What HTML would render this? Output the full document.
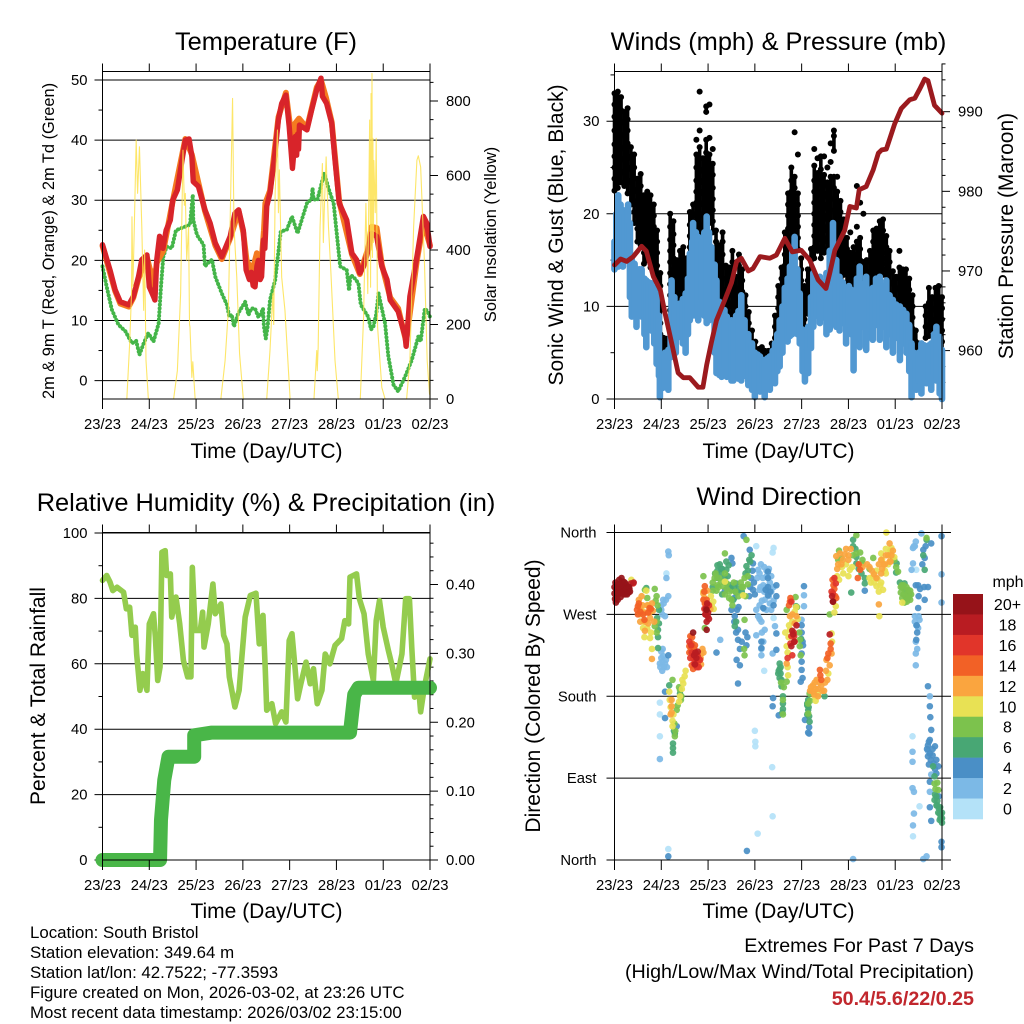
<!DOCTYPE html>
<html lang="en">
<head>
<meta charset="utf-8">
<title>Station Weather Meteogram</title>
<style>
html,body{margin:0;padding:0;background:#fff;width:1024px;height:1024px;overflow:hidden}
svg{display:block}
text{font-family:"Liberation Sans",sans-serif;fill:#000}
.title{font-size:25.4px;text-anchor:middle}
.axt{font-size:21px;text-anchor:middle}
.axs{font-size:16.4px;text-anchor:middle}
.foot{font-size:16.85px}
.ext{font-size:19.7px;text-anchor:end}
</style>
</head>
<body>
<svg xmlns="http://www.w3.org/2000/svg" width="1024" height="1024" viewBox="0 0 1024 1024">
<rect x="0" y="0" width="1024" height="1024" fill="#fff"/>
<g id="chart-layer"></g>

<text class="title" x="266" y="50">Temperature (F)</text>
<text class="title" x="778.5" y="50">Winds (mph) &amp; Pressure (mb)</text>
<text class="title" x="266" y="511">Relative Humidity (%) &amp; Precipitation (in)</text>
<text class="title" x="779" y="505">Wind Direction</text>

<text class="axt" x="266.5" y="458">Time (Day/UTC)</text>
<text class="axt" x="778.5" y="458">Time (Day/UTC)</text>
<text class="axt" x="266.5" y="918">Time (Day/UTC)</text>
<text class="axt" x="778.5" y="918">Time (Day/UTC)</text>

<text class="axs" transform="translate(54,241) rotate(-90)">2m &amp; 9m T (Red, Orange) &amp; 2m Td (Green)</text>
<text class="axs" transform="translate(496,234.5) rotate(-90)">Solar Insolation (Yellow)</text>
<text class="axt" transform="translate(563,235) rotate(-90)">Sonic Wind &amp; Gust (Blue, Black)</text>
<text class="axt" transform="translate(1013,236) rotate(-90)">Station Pressure (Maroon)</text>
<text class="axt" transform="translate(45,696) rotate(-90)">Percent &amp; Total Rainfall</text>
<text class="axt" transform="translate(540,696) rotate(-90)">Direction (Colored By Speed)</text>

<text class="foot" x="30" y="938">Location: South Bristol</text>
<text class="foot" x="30" y="958">Station elevation: 349.64 m</text>
<text class="foot" x="30" y="978">Station lat/lon: 42.7522; -77.3593</text>
<text class="foot" x="30" y="998">Figure created on Mon, 2026-03-02, at 23:26 UTC</text>
<text class="foot" x="30" y="1018">Most recent data timestamp: 2026/03/02 23:15:00</text>

<text class="ext" x="974" y="952">Extremes For Past 7 Days</text>
<text class="ext" x="974" y="978">(High/Low/Max Wind/Total Precipitation)</text>
<text class="ext" x="974" y="1005" style="font-weight:bold;fill:#C1272D">50.4/5.6/22/0.25</text>

<text x="1008" y="587" style="font-size:16px;text-anchor:middle">mph</text>
</svg>

<script>
/* ---------- shared axis data ---------- */
const dayLabels = ["23/23","24/23","25/23","26/23","27/23","28/23","01/23","02/23"];
const dayTicks = [0,1,2,3,4,5,6,7];

/* ---------- temperature panel ---------- */
const tempTicks = [0,10,20,30,40,50];
const tempMinorTicks = [5,15,25,35,45];
const solarTicks = [0,200,400,600,800];
const solarMinorTicks = [50,100,150,250,300,350,450,500,550,650,700,750,850];
const redTemp = [[0,22.6],[.16,18.4],[.27,15.1],[.38,13.1],[.56,12.6],[.66,14],[.77,17.3],[.84,20.1],[.95,20.9],[1,15.6],[1.09,14],[1.12,13.4],[1.16,20.1],[1.22,24],[1.29,22],[1.36,25],[1.45,26.7],[1.5,30],[1.6,31.7],[1.7,36.7],[1.77,40],[1.85,40.2],[1.91,37.3],[1.94,33.1],[2.05,32.3],[2.19,28.4],[2.3,26.2],[2.41,22.9],[2.55,20.6],[2.73,24],[2.83,27.8],[2.91,28.4],[3.01,25],[3.07,18.4],[3.14,16.8],[3.18,18],[3.22,15.8],[3.26,15.6],[3.3,19],[3.33,20],[3.37,16.8],[3.4,17.3],[3.44,23.4],[3.47,22],[3.51,29],[3.58,31.2],[3.67,36.7],[3.76,43.4],[3.83,46.1],[3.92,47.5],[3.99,42.3],[4.06,35.3],[4.12,40.6],[4.15,37.5],[4.17,41],[4.19,38.5],[4.21,42.5],[4.37,41.7],[4.47,45],[4.58,48.4],[4.67,50.3],[4.7,47.3],[4.79,46.1],[4.9,42.8],[4.97,36.7],[5.06,29.5],[5.22,26.7],[5.33,21.2],[5.43,20.1],[5.5,17.9],[5.58,19],[5.68,21.7],[5.75,24.5],[5.86,24],[5.97,19],[6.08,16.8],[6.15,13.4],[6.32,11.5],[6.47,7.3],[6.49,5.7],[6.57,14],[6.72,20.6],[6.86,27.3],[6.93,26.2],[7,22.3]];
const orangeTemp = [[0,22.4],[.27,14.9],[.38,12.8],[.56,12.3],[.66,13.8],[.77,17],[.95,20.5],[1.03,18],[1.06,18.2],[1.1,15.6],[1.16,19.6],[1.3,21.6],[1.5,29.8],[1.77,40.2],[1.91,37.6],[2.19,28.2],[2.41,22.5],[2.55,20.2],[2.73,23.7],[2.91,28.2],[3.01,24.6],[3.08,20],[3.2,18.2],[3.3,21.2],[3.4,20],[3.45,25],[3.48,29.5],[3.58,31.6],[3.76,43.8],[3.92,47.9],[4,43],[4.06,40],[4.12,42.8],[4.2,43.6],[4.37,42],[4.58,48.8],[4.67,50],[4.78,47],[4.9,43],[5.06,29.8],[5.33,21],[5.5,17.7],[5.68,22],[5.75,25.6],[5.86,25.4],[5.97,19.3],[6.15,13.8],[6.32,12],[6.49,6.5],[6.72,20],[6.86,26.2],[7,22.5]];
const greenDewpoint = [[0,19],[.09,15.6],[.2,11.8],[.34,9.3],[.49,8.2],[.63,6.2],[.72,6.6],[.79,4.3],[.88,6.2],[.98,7.9],[1.09,6.5],[1.2,9.5],[1.25,15.6],[1.3,20.6],[1.37,22.3],[1.48,22],[1.57,25],[1.73,25.5],[1.87,25.9],[1.93,30.9],[1.94,26.7],[2.02,24.2],[2.16,22.6],[2.19,19],[2.26,19.6],[2.34,20.1],[2.41,17.3],[2.55,14.5],[2.66,12.6],[2.71,10.6],[2.76,11],[2.81,9],[2.9,11.2],[3.05,13.1],[3.12,10.9],[3.18,12],[3.26,12],[3.33,10.6],[3.38,11],[3.43,12],[3.45,9],[3.49,7],[3.53,9],[3.58,13.4],[3.69,16.7],[3.81,24.8],[3.94,25.1],[4.05,27.3],[4.17,24.5],[4.37,29.5],[4.47,30.2],[4.49,32],[4.51,30.2],[4.59,30],[4.74,34.5],[4.83,32],[4.94,29.5],[5.08,19],[5.22,18.4],[5.27,15],[5.3,17.5],[5.36,17.3],[5.47,16.2],[5.52,12.6],[5.68,10.6],[5.74,8.5],[5.79,9],[5.85,11],[5.9,14.5],[6.04,9.5],[6.11,4],[6.22,-.7],[6.32,-1.8],[6.47,.7],[6.61,3.4],[6.75,7.3],[6.8,6.5],[6.89,12],[6.95,11.5],[7,10.6]];
const solarInsolation = [[0,0],[.52,0],[.58,148],[.62,283],[.63,489],[.65,301],[.68,462],[.72,695],[.75,552],[.79,677],[.84,462],[.88,238],[.9,400],[.93,103],[.98,0],[1.52,0],[1.6,76],[1.67,283],[1.72,668],[1.75,520],[1.77,552],[1.8,372],[1.84,462],[1.86,200],[1.87,193],[1.91,58],[1.93,100],[1.98,0],[2.53,0],[2.62,103],[2.69,238],[2.74,552],[2.78,807],[2.81,462],[2.87,327],[2.93,121],[3.01,0],[3.51,0],[3.58,130],[3.64,283],[3.66,200],[3.69,552],[3.74,722],[3.76,500],[3.78,615],[3.83,327],[3.9,238],[4.01,0],[4.52,0],[4.58,130],[4.59,76],[4.61,139],[4.65,462],[4.7,632],[4.72,420],[4.74,507],[4.78,650],[4.83,462],[4.88,345],[4.97,103],[5.04,0],[5.51,0],[5.58,219],[5.63,525],[5.67,283],[5.71,749],[5.73,300],[5.74,820],[5.75,400],[5.76,874],[5.77,380],[5.78,700],[5.79,420],[5.8,640],[5.83,500],[5.85,700],[5.88,193],[5.97,31],[6.04,0],[6.5,0],[6.57,103],[6.65,462],[6.72,641],[6.75,653],[6.8,623],[6.88,372],[6.94,103],[6.99,13],[7,140],[7,0]];

/* ---------- winds panel ---------- */
const windTicks = [0,10,20,30];
const windMinorTicks = [5,15,25,35];
const pressureTicks = [960,970,980,990];
const pressureMinorTicks = [956,958,962,964,966,968,972,974,976,978,982,984,986,988,992,994,996];
const gustDays = [0,.07,.14,.21,.28,.35,.42,.49,.56,.63,.7,.77,.84,.91,.98,1.05,1.12,1.19,1.26,1.33,1.4,1.47,1.54,1.61,1.68,1.75,1.82,1.89,1.96,2.03,2.1,2.17,2.24,2.31,2.38,2.45,2.52,2.59,2.66,2.73,2.8,2.87,2.94,3.01,3.08,3.15,3.22,3.29,3.36,3.43,3.5,3.57,3.64,3.71,3.78,3.85,3.92,3.99,4.06,4.13,4.2,4.27,4.34,4.41,4.48,4.55,4.62,4.69,4.76,4.83,4.9,4.97,5.04,5.11,5.18,5.25,5.32,5.39,5.46,5.53,5.6,5.67,5.74,5.81,5.88,5.95,6.02,6.09,6.16,6.23,6.3,6.37,6.44,6.51,6.58,6.65,6.72,6.79,6.86,6.93,7];
const gustValues = [
[33,31.8,30.5,29,27.5,26.2,25,23.8,22.5],[33.2,32,30.8,29.4,28,26.6,25.4,24,22.8],[32.6,31.2,30,28.6,27.2,26,24.6,23.4],[31,29.8,28.4,27,25.8,24.4,23],[31.4,30.2,29,27.6,26.2,25,23.6,22.2],[27.2,26,24.8,23.4,22.2,21],[26.4,25,23.8,22.6,21.4,20.2,19],[23.8,22.4,21,19.8,18.4,17],[24.3,23,21.8,20.4,19.2,18,16.6],[22,20.8,19.6,18.4,17,15.8,14.6],[22.4,21.2,20,18.8,17.6,16.2,15],[22,20.6,19.2,18,16.8,15.4,14.2],[21,19.8,18.6,17.2,16,14.8,13.4],[18.2,17,15.8,14.4,13.2,12],[13.6,12.2,11,9.6,8.2,7,5.6],[6.6,5.8,4.8],[6.5,5.2],[20,18.6,17.2,16,14.8,13.6,12.4,11.2,9.6,8.4],[19.2,17.8,16.6,15.2,14,12.8,11.4,10.2],[15,13.8,12.6,11.4,10.2],[16,14.8,13.6,12.4,11.2,10],[16.4,15,13.8,12.6,11.4],[15.2,14,12.8,11.6],[20.2,18.8,17.6,16.4,15.2,14,12.8],[21,19.8,18.6,17.4,16.2,15,13.8],[28,26.4,25,23.6,22.4,21.2,20,18.8,17.6,16.4],[33.2,29,27.2,26,24.8,23.6,22.4,21.2,20,18.8,17.6],[26,24.6,23.4,22.2,21,19.8,18.6,17.4],[31.6,31,28,26.6,25.4,24.2,23,21.8,20.6,19.4,18.2],[31.8,28.2,26.4,25,23.8,22.6,21.4,20.2,19],[27,25.4,24.2,22.8,21.6,20.4,19.2,18],[18.2,17,15.8,14.6,13.4,12.2],[16.6,15.2,14,12.8,11.6,10.4],[18,17,15.6,14.2,13,11.8,10.6,9.4],[14.4,13,11.8,10.6,9.4],[14.2,12.8,11.6,10.4,9.2,8],[16,14.8,13.6,12.4,11.2,10,8.8],[13.2,12,10.8,9.6,8.4],[15.6,14.4,13.2,12,10.8,9.6],[14,12.8,11.6,10.4,9.2,8],[11.2,10,8.8,7.6,6.4],[9.4,8.2,7,5.8],[7.4,6.2,5],[6.2,5.2,4.2],[5.4,4.4,3.4],[5.6,4.6,3.6],[5.2,4.2,3.2],[5.2,4.4,3.4],[6,5,4],[9,7.8,6.6,5.4],[12.2,11,9.8,8.6,7.4],[14.2,13,11.8,10.6,9.4,8.2],[18,16.8,15.6,14.4,13.2,12,10.8],[22.2,21,19.8,18.4,17.2,16,14.8,13.6,12.4],[25,23.6,22.4,21.2,20,18.8,17.6,16.4,15.2],[28.8,24,22.8,21.6,20.4,19.2,18,16.8,15.6],[26.4,22.2,21,19.8,18.6,17.4,16.2],[15.2,14,12.8,11.6,10.4,9.2],[12.2,11,9.8,8.6,7.4],[14,12.8,11.6,10.4,9.2,7,6],[16.2,15,13.8,12.6,11.4],[27,25.2,23.6,22.4,21.2,20,18.8,17.6,16.4,15.2],[26,24.4,23.2,22,20.8,19.6,18.4,17.2,16],[26.2,24.8,23.6,22.4,21.2,20,18.8,17.6,16.4,15.2],[26.2,24.2,23,21.8,20.6,19.4,18.2,17,15.8],[25,23.4,22.2,21,19.8,18.6,17.4,16.2],[27.6,25.6,24,22.8,21.6,20.4,19.2,18,16.8,15.6],[29,28.4,26.8,24,22.8,21.6,20.4,19.2,18,16.8],[24,22.4,21.2,20,18.8,17.6,16.4,15.2],[21.4,20.2,19,17.8,16.6,15.4,14.2,13],[19.4,18.2,17,15.8,14.6,13.4],[17.4,16.2,15,13.8,12.6,11.4],[18,15.8,14.6,13.4,12.2,11],[16.4,15.2,14,12.8,11.6],[23,18.6,17,15.6,14.4,13.2,11,8.2],[21.2,17.4,16.2,15,13.8,12.6,9.4],[20,14.8,13.6,12.4,11.2],[15,13.8,12.6,11.4,9],[16,14.8,13.6,12.4,11.2],[18.2,17,15.8,14.6,13.4,12.2],[18.4,17.2,16,14.8,13.6,12.4],[19.2,18,16.8,15.6,14.4,13.2],[19.4,18.2,17,15.8,14.6,13.4],[17.6,16.4,15.2,14,12.8,11.6],[16,14.8,13.6,12.4,11.2],[13.8,12.6,11.4,10.2],[13.2,12,10.8,9.6],[16,14.2,13,11.8,10.6],[14,12.8,11.6,10.4,9.2],[14,12.8,11.6,10.4,9.2],[13,11.8,10.6,9.4,8.2],[11.2,10,8.8,7.6,6.4],[7.4,6.2,5,3.8],[6,4.8,3.6],[5.2,4,2.8],[10,9,7.8,6.6],[12,10.4,9.2,8,6.8],[11,9.8,8.6,7.4],[12,10.8,9.6,8.4,7.2],[12.2,11,9.8,8.6,7.4,6.2],[11,9.8,8.6,7.4,6.2,5,3.6,2,1]
];
/* day, high, low of the sonic wind trace */
const windRange = [[0,17,14],[.04,20,14.3],[.08,22,14.3],[.13,21,15],[.18,20.4,14.3],[.23,20,15],[.29,21,15.2],[.33,19,11],[.37,15,8.9],[.43,14.6,9],[.47,14,7.8],[.53,14,9.5],[.58,14,8.9],[.64,13,7],[.68,12.8,5.6],[.73,12.6,8],[.79,12.5,7.4],[.85,12,6],[.9,11.4,3.8],[.95,9,2.5],[.97,4.2,.2],[1.03,4.5,1.2],[1.08,5,1.3],[1.15,5.3,1],[1.2,9,4.5],[1.22,12.8,6.7],[1.28,11,6],[1.31,10,5],[1.39,10.3,6.7],[1.46,10.8,6],[1.52,11.4,5],[1.57,13,7],[1.61,15.7,8.5],[1.66,17,9],[1.68,19,10.7],[1.74,18,9],[1.79,17.5,8.5],[1.86,17,10.7],[1.92,18,9],[1.97,19.7,8.2],[2.02,18,8.5],[2.07,16.4,8.9],[2.14,14.5,5],[2.18,12.8,2.8],[2.24,10.5,2.6],[2.29,9.2,2.4],[2.35,9.6,3.4],[2.4,8.9,2.4],[2.5,8.5,2],[2.54,8.2,2],[2.6,9,3.2],[2.65,9.5,2.2],[2.71,11.2,2],[2.78,8.5,2.5],[2.86,7,1.5],[2.94,6,1],[3,5,.2],[3.06,4.8,1.6],[3.11,4.6,.8],[3.16,4.2,2],[3.21,4.2,.2],[3.27,4.4,1.8],[3.32,4.6,1],[3.38,5.2,2.2],[3.43,6,1.7],[3.48,7,3],[3.53,8.5,3.5],[3.59,10,5],[3.64,12,7],[3.7,13,6.2],[3.75,14.3,6.8],[3.8,16,7],[3.85,17.5,7.8],[3.91,14,7],[3.96,11.4,6],[4.02,7.5,3],[4.07,5,1.9],[4.14,7.8,2.8],[4.2,11,5.5],[4.25,13.6,7.8],[4.32,13,9],[4.39,13.2,8.2],[4.46,12.6,8.8],[4.53,13.6,7],[4.6,16,7.5],[4.67,19,8.2],[4.74,15,7.8],[4.81,13.2,7.4],[4.88,12.6,8.2],[4.95,12,6],[5.01,12.2,8],[5.06,11.8,7],[5.11,11,3.1],[5.18,13,7.2],[5.24,14.3,5.6],[5.31,12.4,7.8],[5.38,13.2,5.3],[5.45,11.8,7.6],[5.52,12,6.4],[5.59,13,8],[5.67,13.2,6.4],[5.74,12.2,7.8],[5.81,12.8,5.6],[5.88,11.2,7],[5.95,10.7,5],[6.02,10.2,6.6],[6.1,10,4.2],[6.17,9.6,6],[6.24,9.2,5],[6.3,8,3],[6.35,6,.2],[6.4,5,1.5],[6.45,4.2,1],[6.5,5,2],[6.56,6,.6],[6.62,5.8,2.2],[6.67,5.6,1.7],[6.72,5.8,2],[6.77,6,1],[6.83,7,2.6],[6.88,7.8,2],[6.95,6.7,.6],[7,5.3,0]];
const maroonPressure = [[0,970.75],[.13,971.5],[.26,971.2],[.4,971.8],[.58,973.1],[.68,972.5],[.83,969.3],[.98,967.6],[1.08,964.7],[1.22,961],[1.36,957.2],[1.47,956.6],[1.61,956.6],[1.79,955.4],[1.89,955.4],[1.97,958.2],[2.07,961],[2.18,963.8],[2.36,966.4],[2.5,968.5],[2.61,971.2],[2.71,971.6],[2.86,970],[2.96,970.3],[3.11,971.8],[3.32,971.6],[3.46,972],[3.64,974.1],[3.8,972.4],[3.99,972.6],[4.17,971.4],[4.35,968.9],[4.52,967.8],[4.6,969.7],[4.71,972.6],[4.92,975.1],[5.03,978.1],[5.17,977.9],[5.23,980.2],[5.38,980.6],[5.53,982.7],[5.64,984.8],[5.71,985.2],[5.81,985.3],[5.99,988.5],[6.13,990.4],[6.31,991.5],[6.42,991.7],[6.52,992.8],[6.63,994.1],[6.7,993.9],[6.84,990.8],[7,989.8]];

/* ---------- humidity panel ---------- */
const humidityTicks = [0,20,40,60,80,100];
const humidityMinorTicks = [10,30,50,70,90];
const rainTicks = [0,.1,.2,.3,.4];
const rainTickLabels = ["0.00","0.10","0.20","0.30","0.40"];
const rainMinorTicks = [.02,.04,.06,.08,.12,.14,.16,.18,.22,.24,.26,.28,.32,.34,.36,.38,.42,.44,.46];
const relativeHumidity = [[0,85.5],[.09,87],[.16,85],[.22,82.4],[.31,83.4],[.45,81.9],[.51,76.8],[.58,77.3],[.63,68.7],[.7,71.2],[.73,63],[.8,51.9],[.86,57],[.95,51.9],[1,72.2],[1.09,75.3],[1.13,68.2],[1.18,54.9],[1.23,59],[1.27,94.1],[1.34,94.6],[1.37,87],[1.45,87.5],[1.48,74.3],[1.57,80.4],[1.65,72.2],[1.73,61],[1.82,56],[1.89,56],[1.92,89.5],[1.98,70.2],[2.09,70.2],[2.14,75.8],[2.17,65.1],[2.26,72.2],[2.36,84.4],[2.41,75.3],[2.53,78.3],[2.59,68.7],[2.66,66.1],[2.71,56],[2.83,46.8],[2.92,51.9],[3.05,74.3],[3.16,80.9],[3.28,81.6],[3.35,66.1],[3.43,74.8],[3.48,58],[3.51,45.8],[3.62,47.8],[3.7,41.7],[3.83,45.3],[3.92,42.2],[3.99,67.1],[4.05,69.2],[4.12,58],[4.17,49.3],[4.24,53.9],[4.35,60.5],[4.44,53.9],[4.51,58.5],[4.59,47.8],[4.69,51.9],[4.76,63],[4.86,60],[4.97,65.6],[5.11,67.7],[5.18,73.2],[5.26,72.2],[5.29,86.5],[5.43,87.5],[5.49,79.9],[5.59,75.3],[5.68,63],[5.79,54.9],[5.85,73.2],[5.92,79.3],[6,71.2],[6.11,64.1],[6.18,60],[6.27,53.9],[6.4,63],[6.48,79.9],[6.56,79.9],[6.61,65.1],[6.67,49.8],[6.75,53.9],[6.8,45.3],[6.88,52.9],[7,61.5]];
const totalPrecipitation = [[0,0],[1.23,0],[1.25,.058],[1.32,.116],[1.41,.15],[1.96,.15],[1.96,.181],[2.34,.185],[5.29,.185],[5.38,.24],[5.47,.25],[7,.25]];

/* ---------- wind direction panel ---------- */
const directionTicks = [0,90,180,270,360];
const directionLabels = ["North","East","South","West","North"];
const speedLabels = ["20+","18","16","14","12","10","8","6","4","2","0"];
const speedColors = ["#961319","#B91C22","#E1352A","#F26126","#FAA53F","#E8E154","#7CC24D","#48A774","#4A8FC6","#7CB9E6","#B4E2F8"];
const dirSpeed0 = [[1.11,315],[3.03,345],[3.4,343],[.97,173],[.97,160],[.97,136],[1.15,12],[3,142],[3.01,125],[3.37,102],[3.38,48],[3.06,29],[3.2,208],[3.4,266],[6.38,343],[6.52,59],[6.38,26],[6.37,136],[6.45,319],[6.56,359],[3.01,130],[3.38,338]];
const dirSpeed2 = [[1.15,339],[1.16,335],[1.11,310],[1.04,286],[1.1,286],[1.15,290],[1,275],[1.08,268],[1,229],[1.04,224],[.97,216],[1.08,216],[1.03,232],[1.12,212],[2.26,242],[3.07,319],[3.17,310],[3.25,318],[3.1,297],[3.18,302],[3.32,305],[3.21,286],[3.3,290],[3.32,282],[3.07,268],[3.14,262],[3.2,276],[3.21,253],[3.03,247],[3.14,225],[3.43,257],[3.38,227],[4.05,291],[4.05,279],[4,264],[6.38,343],[6.35,319],[6.38,326],[6.42,268],[6.52,264],[6.49,255],[6.44,227],[6.44,214],[6.42,345],[6.56,359],[6.6,1],[6.67,4],[5.1,1],[6.99,314],[6.99,283],[.97,111],[6.37,119],[6.37,108],[6.37,79],[6.4,75],[6.4,51],[6.38,38],[6.74,180],[6.77,94],[6.7,120],[6.74,75],[3.05,310],[3.1,315],[3.13,325],[3.2,322],[3.25,312],[3.3,320],[3.35,312],[3.4,300],[3.12,300],[3.2,295],[3.24,300],[3.35,295],[3.4,285],[3.15,285],[3.1,280],[3.25,275],[3.35,275],[3.03,275],[3.1,265],[3.15,250],[3.18,240],[3.14,232],[1,280],[1.02,270],[1.05,282],[1,222],[1.03,218],[1.06,212],[1.1,220],[.98,212],[1.02,208],[6.42,262],[6.45,258],[6.5,268],[6.44,240],[6.47,232],[6.4,345],[6.44,350]];
const dirSpeed4 = [[1.15,225],[1.08,185],[1.08,156],[1.33,147],[1.15,4],[2.83,10],[2.5,332],[2.52,326],[2.57,268],[2.62,275],[2.64,253],[2.61,220],[2.68,214],[2.64,194],[2.82,236],[2.84,245],[2.89,341],[2.76,356],[2.96,326],[2.96,297],[2.92,310],[3.28,310],[3.28,291],[3.28,300],[3.46,302],[3.46,290],[3.18,277],[3.14,240],[3.14,233],[3.46,249],[3.46,231],[3.39,178],[3.38,169],[3.51,159],[4.05,301],[4,227],[4,209],[4,218],[4.03,236],[4.16,139],[4.16,146],[4.07,154],[5.35,296],[6.49,302],[6.44,302],[6.49,277],[6.45,242],[6.47,250],[6.63,286],[6.6,341],[6.63,332],[6.58,325],[6.77,348],[6.7,191],[6.74,169],[6.75,157],[6.77,143],[6.74,132],[6.7,126],[6.85,125],[6.7,114],[6.74,117],[6.8,122],[6.88,110],[6.92,103],[6.74,86],[6.93,70],[6.74,58],[6.77,43],[6.99,20],[6.99,14],[6.99,356],[2.18,228],[2.28,320],[2.36,296],[2.44,300],[2.56,288],[2.65,278],[2.95,318],[2.98,305],[2.9,300],[2.88,290],[3,292],[3.28,317],[3.33,295],[3.23,297],[3.4,280],[2.5,275],[2.56,262],[2.6,250],[2.64,242],[2.68,232],[2.72,240],[2.8,250],[6.46,258],[6.62,300],[6.7,300],[6.65,345],[6.72,130],[6.76,110],[6.8,115],[6.82,106],[6.72,105],[6.68,122],[6.85,100],[6.88,95],[4,250],[4,258],[4.02,240],[4.14,140],[4.02,200],[3.98,196],[6.5,290],[6.53,298]];
const dirSpeed6 = [[.68,299],[.93,253],[.93,233],[.91,266],[.95,275],[1.17,192],[1.25,123],[1.25,128],[1.29,139],[1.4,183],[2.2,324],[2.28,315],[2.39,319],[2.39,328],[2.44,324],[2.5,297],[2.54,286],[2.6,304],[2.93,335],[2.82,323],[2.57,257],[2.6,262],[2.88,330],[3.53,216],[3.53,210],[3.55,205],[3.53,200],[3.51,208],[3.57,191],[3.6,172],[3.6,166],[3.88,279],[3.99,243],[4.14,176],[4.14,165],[4.12,170],[4.17,152],[4.49,180],[5.1,352],[5.06,294],[5.17,326],[5.17,333],[5.35,304],[6.03,326],[6.2,304],[6.27,290],[6.63,319],[6.67,352],[6.6,335],[6.81,103],[6.84,92],[6.84,66],[6.95,51],[6.98,45],[7,41],[6.93,57],[6.97,47],[7,52],[6.88,60],[6.9,65],[2.1,300],[2.2,310],[2.3,292],[2.15,315],[2.2,318],[2.25,325],[2.3,320],[2.35,310],[2.42,312],[2.48,302],[2.55,300],[2.6,294],[2.66,298],[2.72,295],[2.8,315],[2.85,318],[2.9,328],[3.55,212],[3.57,198],[3.5,205],[3.6,180],[3.59,162],[4.12,172],[4.15,168],[4.12,160],[4.16,158],[5.1,345],[5.15,342],[5.22,320],[5.28,315],[5.35,310],[5.95,330],[6.02,316],[6.1,305],[6.15,300],[6.22,296],[6.3,292],[6.85,72],[6.9,60],[6.92,52],[6.96,58],[6.98,50],[7,46],[6.95,44],[6.88,70],[1.25,118],[1.27,142],[.93,245],[.95,260]];
const dirSpeed8 = [[.65,297],[.86,298],[.9,290],[.86,257],[.9,262],[1.24,198],[1.4,187],[1.43,180],[1.33,165],[1.29,136],[1.9,312],[2.14,310],[2.2,302],[2.1,296],[2.18,296],[2.32,301],[2.36,292],[2.5,286],[2.52,280],[2.75,300],[2.8,290],[2.82,352],[2.36,337],[2.78,264],[2.78,225],[2.77,232],[3.68,275],[3.87,289],[3.68,196],[3.6,176],[3.96,235],[3.96,242],[4.14,161],[4.17,183],[4.78,330],[5.17,357],[5.17,337],[5.25,338],[5.53,332],[5.3,326],[6.06,317],[6.17,299],[6.22,290],[6.27,294],[6.32,286],[6.2,283],[6.28,297],[6.12,294],[6.34,292],[6.15,288],[6.25,284],[6.67,354],[6.84,84],[6.92,77],[2.24,310],[2.4,304],[2.46,295],[2.58,295],[2.7,305],[2.85,303],[1.93,255],[2.1,305],[2.16,315],[2.22,300],[2.28,306],[2.36,315],[2.4,298],[2.45,288],[2.55,305],[2.65,290],[2.72,300],[2.78,310],[2.85,312],[.7,288],[.88,285],[.92,280],[.9,250],[1.35,170],[1.42,176],[1.38,190],[1.28,150],[1.3,142],[3.56,195],[3.62,190],[3.6,160],[3.9,278],[3.95,250],[3.98,225],[4.14,172],[4.18,175],[4.6,270],[4.8,340],[4.85,332],[5.1,335],[5.3,330],[5.45,320],[5.9,340],[5.98,330],[6.02,322],[6.18,302],[6.24,300],[6.3,290],[6.32,296],[6.14,302],[6.22,285],[6.18,292],[6.28,288],[6.12,300],[6.9,85],[6.86,78]];
const dirSpeed10 = [[.61,255],[.76,244],[.8,232],[.36,308],[.68,296],[1.17,185],[1.18,176],[1.24,147],[1.24,153],[1.47,194],[1.5,202],[1.38,174],[1.44,188],[2.11,284],[2.06,290],[2.36,306],[2.75,291],[3.68,235],[3.71,203],[3.75,253],[3.85,273],[3.72,245],[4.73,279],[4.89,315],[5.03,319],[5.53,312],[5.6,301],[5.74,297],[5.7,337],[5.81,360],[5.66,268],[5.92,343],[6.15,283],[4.28,180],[4.64,249],[4.57,205],[5.62,309],[5.68,302],[5.48,305],[4.86,322],[5.78,318],[.55,270],[.62,262],[.7,255],[.78,250],[.64,245],[.72,280],[.58,275],[1.2,168],[1.26,160],[1.4,180],[1.45,198],[1.52,208],[1.9,295],[2.08,280],[2.12,276],[3.65,250],[3.7,228],[3.73,258],[3.7,212],[3.8,262],[3.88,278],[3.92,265],[4.35,182],[4.3,175],[4.65,240],[4.7,272],[4.76,312],[4.8,308],[4.95,325],[5,312],[5.08,322],[5.45,310],[5.55,305],[5.6,318],[5.65,295],[5.7,305],[5.8,315],[5.85,325],[5.9,338],[5.98,333],[5.72,330],[5.8,342]];
const dirSpeed12 = [[.52,286],[.6,280],[.68,272],[.76,266],[.82,274],[.55,262],[.65,252],[.8,282],[.8,221],[.72,260],[1.22,169],[1.22,176],[1.86,227],[1.85,215],[1.9,293],[1.94,282],[2.05,276],[4.2,190],[4.28,195],[4.35,188],[4.42,192],[4.48,186],[4.55,198],[4.25,185],[3.68,216],[3.89,268],[4.74,334],[4.82,337],[4.88,330],[4.95,342],[5,335],[4.78,325],[5.4,325],[5.5,318],[5.7,330],[5.85,335],[5.95,340],[5.6,310],[5.65,281],[5.88,348],[4.53,220],[4.64,227],[5.75,325],[5.9,328],[.55,278],[.62,272],[.7,280],[.58,290],[.75,272],[.85,262],[.66,262],[1.2,160],[1.22,162],[1.84,222],[1.88,232],[1.9,228],[1.92,288],[1.98,296],[4.18,186],[4.24,192],[4.3,188],[4.32,198],[4.38,195],[4.44,186],[4.5,195],[4.27,182],[4.35,180],[4.52,208],[4.6,214],[4.76,320],[4.85,325],[4.92,336],[5,330],[5.05,342],[5.3,322],[5.45,322],[5.55,314],[5.65,325],[5.72,320],[5.78,325],[5.8,335],[5.92,335],[5.88,328],[5.7,315],[3.8,270],[3.85,260],[3.75,268]];
const dirSpeed14 = [[.5,279],[.5,270],[.75,277],[.61,270],[1.62,246],[1.66,238],[1.7,233],[1.6,228],[1.72,228],[1.65,214],[1.93,301],[1.9,286],[4.66,308],[4.7,298],[4.72,290],[5.25,319],[5.2,310],[4.39,209],[4.62,238],[4.57,227],[3.75,284],[1.75,220],[.48,275],[.52,282],[.72,272],[.78,276],[.55,273],[.64,264],[1.6,235],[1.63,232],[1.68,222],[1.72,236],[1.66,245],[1.75,215],[1.78,216],[1.68,210],[1.92,295],[1.93,282],[1.97,286],[4.68,302],[4.74,288],[4.62,232],[4.55,222],[4.4,203],[4.42,198],[3.73,280],[3.76,288],[5.22,325]];
const dirSpeed16 = [[1.6,240],[1.65,228],[1.72,218],[1.8,212],[1.83,220],[1.76,212],[1.62,222],[1.78,224],[.4,304],[1.95,270],[2.02,280],[3.78,246],[3.85,240],[3.8,225],[3.7,222],[4.67,293],[4.73,304],[3.78,284],[1.64,236],[1.68,226],[1.7,216],[1.74,215],[1.8,220],[1.76,224],[1.97,279],[1.92,276],[3.83,250],[3.76,238],[3.84,246],[4.64,295],[4.7,310]];
const dirSpeed18 = [[1.95,276],[1.99,268],[1.97,262],[2,272],[1.7,225],[1.75,222],[1.78,229],[3.82,248],[3.89,258],[3.78,235],[4.67,284],[4.6,248],[.35,304],[.41,305],[1.72,215],[1.73,228],[1.98,282],[1.94,270],[2.02,265],[3.8,252],[3.84,240],[4.65,290]];
const dirSpeed20 = [[0,300],[0,293],[.02,305],[.04,288],[.05,298],[.07,303],[.08,292],[.1,308],[.11,297],[.13,289],[.15,310],[.15,300],[.17,295],[.19,306],[.21,299],[.23,292],[.24,303],[.26,296],[.28,300],[.3,294],[.32,298],[1.97,253],[1.68,250],[1.97,275],[4.67,284],[.03,298],[.06,294],[.09,300],[.12,304],[.14,294],[.18,302],[.2,292],[.22,305],[.25,298],[.27,292],[.01,287],[.03,283],[.07,286],[.31,300],[.33,295]];
const directionBySpeed = [dirSpeed20,dirSpeed18,dirSpeed16,dirSpeed14,dirSpeed12,dirSpeed10,dirSpeed8,dirSpeed6,dirSpeed4,dirSpeed2,dirSpeed0];

/* ---------- helpers ---------- */
const NS = "http://www.w3.org/2000/svg";
const layer = document.getElementById("chart-layer");
function make(tag, parent, name){
  const el = document.createElementNS(NS, tag);
  
  
  parent.appendChild(el);
  return el;
}
function scale(d0,d1,r0,r1){ return v => r0 + (v-d0)*(r1-r0)/(d1-d0); }
function hv(parent,name,x1,y1,x2,y2,w,col){
  const l = make('line',parent,name);
  l.setAttribute('x1',x1);l.setAttribute('y1',y1);l.setAttribute('x2',x2);l.setAttribute('y2',y2);
  l.setAttribute('stroke',col||'#000');l.setAttribute('stroke-width',w||1);
  return l;
}
function label(parent,name,x,y,txt,anchor,size){
  const t = make('text',parent,name);
  t.setAttribute('x',x);t.setAttribute('y',y);
  t.setAttribute('text-anchor',anchor||'middle');
  t.setAttribute('font-size',size||14.8);
  t.textContent = txt;
  return t;
}
function series(parent,name,data,xf,yf,color,width,dash,opacity){
  const p = make('polyline',parent,name);
  p.setAttribute('points',data.map(q => xf(q[0]).toFixed(2)+','+yf(q[1]).toFixed(2)).join(' '));
  p.setAttribute('fill','none');
  p.setAttribute('stroke',color);
  p.setAttribute('stroke-width',width);
  p.setAttribute('stroke-linejoin','round');
  p.setAttribute('stroke-linecap','round');
  if(dash){ p.setAttribute('stroke-dasharray',dash); }
  if(opacity){ p.setAttribute('opacity',opacity); }
  return p;
}
function drawFrame(g,key,L,R,T,B,xf){
  hv(g,key+'-frame-left',L,T,L,B);
  hv(g,key+'-frame-right',R,T,R,B);
  hv(g,key+'-frame-top',L,T,R,T);
  hv(g,key+'-frame-bottom',L,B,R,B);
  dayTicks.forEach((d,i)=>{
    const x = xf(d);
    hv(g,key+'-x-tick-bottom',x,B,x,B+10);
    hv(g,key+'-x-tick-top',x,T,x,T-8);
    label(g,key+'-x-tick-label',x,B+30,dayLabels[i]);
  });
}
function leftAxis(g,key,L,R,yf,ticks,minor){
  ticks.forEach(v=>{
    const y = yf(v);
    hv(g,key+'-gridline',L-8,y,R,y);
    label(g,key+'-left-tick-label',L-15,y+5,String(v),'end');
  });
  minor.forEach(v=>{
    const y = yf(v);
    hv(g,key+'-left-minor-tick',L-4,y,L,y);
  });
}
function rightAxis(g,key,R,yf,ticks,minor,labels){
  ticks.forEach((v,i)=>{
    const y = yf(v);
    hv(g,key+'-right-tick',R,y,R+8,y);
    label(g,key+'-right-tick-label',R+16,y+5,labels?labels[i]:String(v),'start');
  });
  minor.forEach(v=>{
    const y = yf(v);
    hv(g,key+'-right-minor-tick',R,y,R+3.5,y);
  });
}

/* ---------- temperature ---------- */
(function(){
  const L=102.5,R=430,T=71.5,B=399;
  const x=scale(0,7,L,R), yT=scale(0,50,380.6,80), yS=scale(0,800,399,101);
  const g=make('g',layer,'temperature-panel');
  leftAxis(g,'temperature',L,R,yT,tempTicks,tempMinorTicks);
  rightAxis(g,'solar',R,yS,solarTicks,solarMinorTicks);
  series(g,'dewpoint-2m-line',greenDewpoint,x,yT,'#44B549',4,'.1 3.6');
  series(g,'temperature-9m-line',orangeTemp,x,yT,'#F47A20',5.8);
  series(g,'temperature-2m-line',redTemp,x,yT,'#D8242A',5.4);
  series(g,'solar-insolation-line',solarInsolation,x,yS,'#FDE24F',1.1,'','.85');
  drawFrame(g,'temperature',L,R,T,B,x);
})();

/* ---------- winds ---------- */
(function(){
  const L=614.5,R=942,T=71.5,B=399;
  const x=scale(0,7,L,R), yW=scale(0,30,399,121.2), yP=scale(960,990,350.6,111.7);
  const g=make('g',layer,'winds-panel');
  leftAxis(g,'winds',L,R,yW,windTicks,windMinorTicks);
  rightAxis(g,'pressure',R,yP,pressureTicks,pressureMinorTicks);
  const gustLayer = make('g',g,'gust-points');
  gustDays.forEach((d,i)=>{
    const vals = gustValues[i];
    vals.forEach((v,j)=>{
      const c = make('circle',gustLayer,'gust-point');
      c.setAttribute('cx',x(d).toFixed(2));
      c.setAttribute('cy',yW(v).toFixed(2));
      c.setAttribute('r',3);
      c.setAttribute('fill','#000');
      if(j>0 && vals[j-1]-v<=1.6){
        const l = hv(gustLayer,'gust-dense-run',x(d).toFixed(2),yW(vals[j-1]).toFixed(2),x(d).toFixed(2),yW(v).toFixed(2),3.6);
        l.setAttribute('stroke-linecap','butt');
      }
    });
  });
  const windLayer = make('g',g,'sonic-wind-range');
  windRange.forEach(q=>{
    const l = hv(windLayer,'sonic-wind-bar',x(q[0]).toFixed(2),yW(q[2]).toFixed(2),x(q[0]).toFixed(2),yW(q[1]).toFixed(2),6.6,'#5198D2');
    l.setAttribute('stroke-linecap','round');
  });
  series(g,'station-pressure-line',maroonPressure,x,yP,'#9B1A1E',4.8);
  drawFrame(g,'winds',L,R,T,B,x);
})();

/* ---------- humidity ---------- */
(function(){
  const L=102.5,R=430,T=532.5,B=860;
  const x=scale(0,7,L,R), yH=scale(0,100,860,533), yR=scale(0,.4,860,584.5);
  const g=make('g',layer,'humidity-panel');
  leftAxis(g,'humidity',L,R,yH,humidityTicks,humidityMinorTicks);
  rightAxis(g,'rainfall',R,yR,rainTicks,rainMinorTicks,rainTickLabels);
  series(g,'relative-humidity-line',relativeHumidity,x,yH,'#94CC4E',5.6);
  series(g,'total-precipitation-line',totalPrecipitation,x,yR,'#49B648',14);
  drawFrame(g,'humidity',L,R,T,B,x);
})();

/* ---------- wind direction ---------- */
(function(){
  const L=614.5,R=942,T=532.5,B=860;
  const x=scale(0,7,L,R), yD=scale(0,360,860,532.5);
  const g=make('g',layer,'direction-panel');
  directionTicks.forEach((v,i)=>{
    const y=yD(v);
    hv(g,'direction-gridline',L-8,y,R+9,y);
    label(g,'direction-tick-label',L-18,y+5,directionLabels[i],'end',14.8);
  });
  for(let s=directionBySpeed.length-1;s>=0;s--){
    const dots = make('g',g,'direction-points-'+speedLabels[s].replace('+','-plus'));
    directionBySpeed[s].forEach(q=>{
      const c = make('circle',dots,'direction-point');
      c.setAttribute('cx',x(q[0]).toFixed(2));
      c.setAttribute('cy',yD(q[1]).toFixed(2));
      c.setAttribute('r',3.3);
      c.setAttribute('fill',speedColors[s]);
      c.setAttribute('opacity','.92');
    });
  }
  drawFrame(g,'direction',L,R,T,B,x);
  const legendTop=594, legendBottom=819, step=(legendBottom-legendTop)/speedColors.length;
  const lg = make('g',layer,'speed-legend');
  speedColors.forEach((col,i)=>{
    const r = make('rect',lg,'legend-swatch');
    r.setAttribute('x',953);r.setAttribute('y',(legendTop+i*step).toFixed(2));
    r.setAttribute('width',30);r.setAttribute('height',(step+.3).toFixed(2));
    r.setAttribute('fill',col);
    label(lg,'legend-label',1007.5,legendTop+i*step+16,speedLabels[i],'middle',16);
  });
})();
</script>
</body>
</html>
